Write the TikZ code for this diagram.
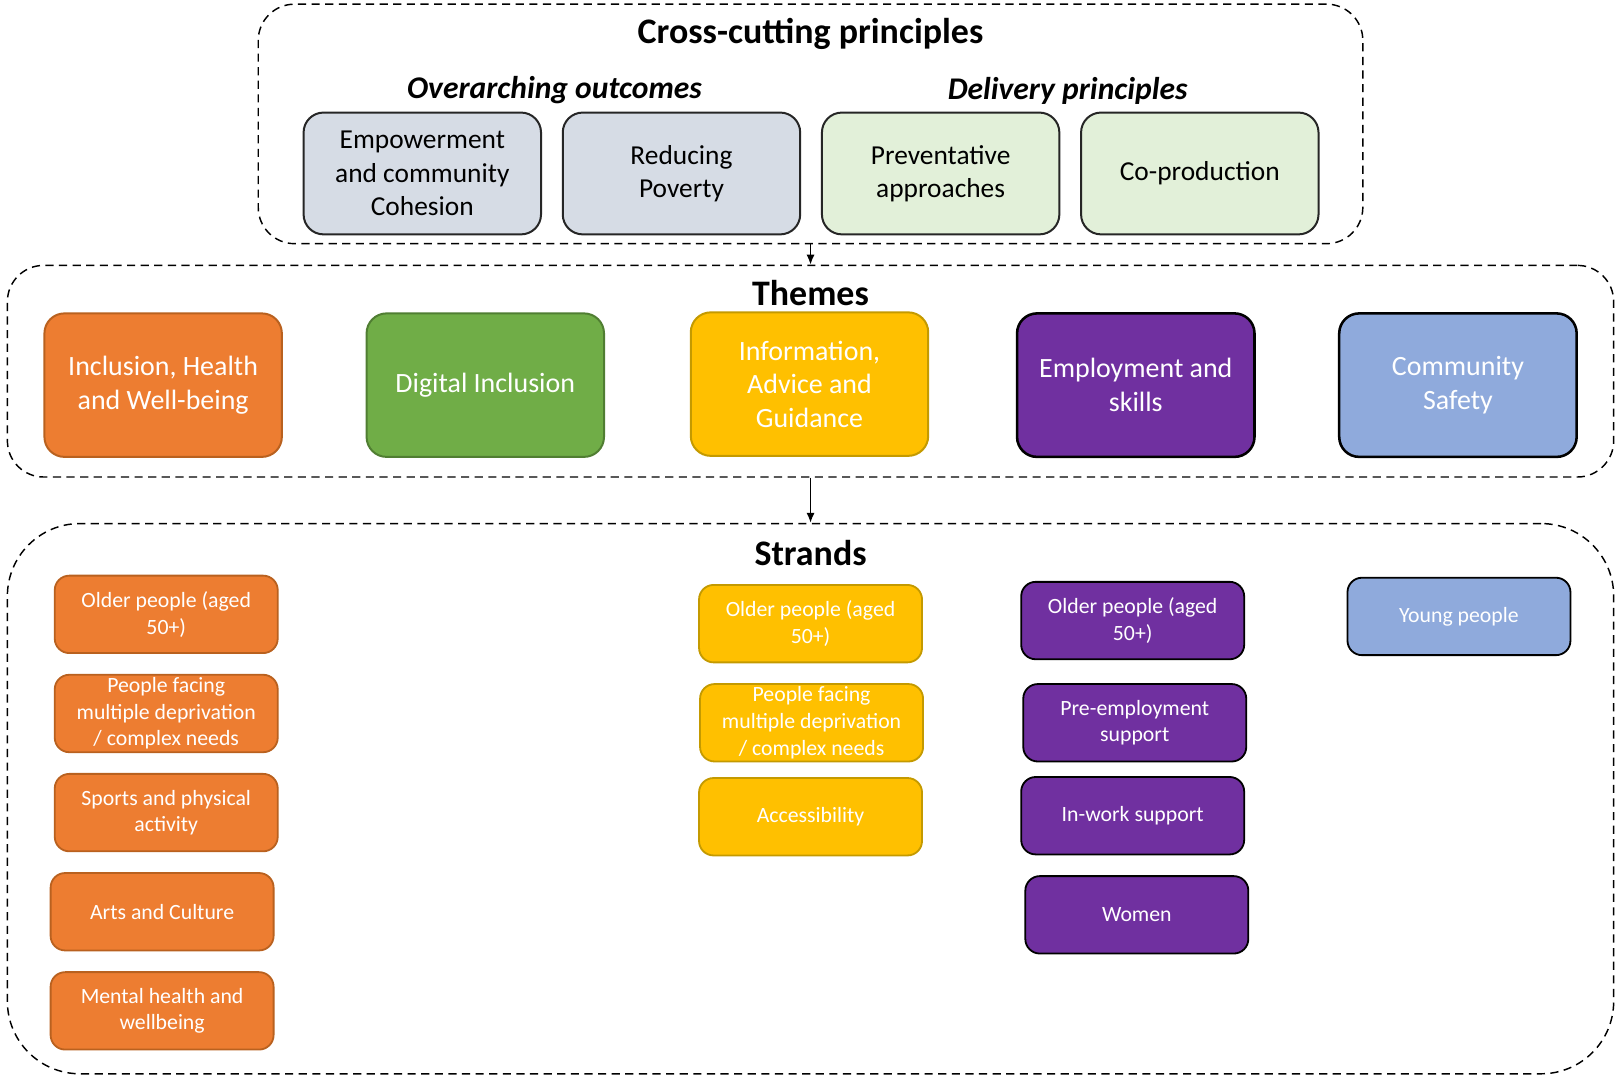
\documentclass[tikz,border=0pt]{standalone}
\usepackage{fontspec}
\setmainfont{Carlito}
\usetikzlibrary{arrows,arrows.meta}

\definecolor{outcomefill}{HTML}{D6DCE5}
\definecolor{principlefill}{HTML}{E2F0D9}
\definecolor{healthcol}{HTML}{ED7D31}
\definecolor{healthline}{HTML}{B9611F}
\definecolor{digitalcol}{HTML}{70AD47}
\definecolor{digitalline}{HTML}{507E32}
\definecolor{advicecol}{HTML}{FFC000}
\definecolor{adviceline}{HTML}{C49A00}
\definecolor{skillscol}{HTML}{7030A0}
\definecolor{safetycol}{HTML}{8FAADC}

\begin{document}
\begin{tikzpicture}[x=0.02cm,y=-0.02cm]
    \tikzset{frame/.style={draw, dash pattern=on 4.5pt off 3pt, line width=0.8pt, rounded corners=20pt}}
    \tikzset{heading/.style={font=\fontsize{19.8}{24}\selectfont\bfseries}}
    \tikzset{subheading/.style={font=\fontsize{17.4}{20}\selectfont\bfseries\itshape}}
    \tikzset{principle/.style={draw=black!85, line width=1.1pt, rounded corners=11pt, align=center,
        minimum width=4.6cm, minimum height=2.36cm, inner sep=0pt, font=\fontsize{15.1}{18.3}\selectfont}}
    \tikzset{theme/.style={principle, minimum height=2.78cm, text=white, font=\fontsize{15.4}{18.5}\selectfont}}
    \tikzset{strand/.style={theme, line width=1pt, rounded corners=8pt, minimum width=4.32cm,
        minimum height=1.5cm, font=\fontsize{12}{14.7}\selectfont}}
    \tikzset{link/.style={-{Latex[length=5.5pt,width=4.5pt]}, line width=0.9pt}}
    \useasboundingbox (0,0) rectangle (1568,1042);
    % cross-cutting principles
    \node[frame, minimum width=21.4cm, minimum height=4.64cm] (cross) at (785,120) {};
    \node[heading] (crosstitle) at (785,33) {Cross-cutting principles};
    \node[subheading] (outcomes) at (537,87) {Overarching outcomes};
    \node[subheading] (delivery) at (1034,88) {Delivery principles};
    \node[principle, fill=outcomefill] (empower) at (409,168) {Empowerment\\and community\\Cohesion};
    \node[principle, fill=outcomefill] (poverty) at (660,168) {Reducing\\Poverty};
    \node[principle, fill=principlefill] (prevent) at (911,168) {Preventative\\approaches};
    \node[principle, fill=principlefill] (coprod) at (1162,168) {Co-production};
    % themes
    \node[frame, minimum width=31.12cm, minimum height=4.1cm] (themes) at (785,359.5) {};
    \node[heading] (themestitle) at (785,284) {Themes};
    \node[theme, fill=healthcol, draw=healthline] (health) at (158,373) {Inclusion, Health\\and Well-being};
    \node[theme, fill=digitalcol, draw=digitalline] (digital) at (470,373) {Digital Inclusion};
    \node[theme, fill=advicecol, draw=adviceline] (advice) at (784,372) {Information,\\Advice and\\Guidance};
    \node[theme, fill=skillscol, draw=black, line width=1.4pt] (skills) at (1100,373) {Employment and\\skills};
    \node[theme, fill=safetycol, draw=black, line width=1.4pt] (safety) at (1412,373) {Community\\Safety};
    % strands
    \node[frame, rounded corners=40pt, minimum width=31.12cm, minimum height=10.66cm] (strands) at (785,773.5) {};
    \node[heading] (strandstitle) at (785,536) {Strands};
    \node[strand, fill=healthcol, draw=healthline] (hold) at (161,595) {Older people (aged\\50+)};
    \node[strand, fill=healthcol, draw=healthline] (hdep) at (161,691) {People facing\\multiple deprivation\\/ complex needs};
    \node[strand, fill=healthcol, draw=healthline] (hsport) at (161,787) {Sports and physical\\activity};
    \node[strand, fill=healthcol, draw=healthline] (harts) at (157,883) {Arts and Culture};
    \node[strand, fill=healthcol, draw=healthline] (hmental) at (157,979) {Mental health and\\wellbeing};
    \node[strand, fill=advicecol, draw=adviceline] (aold) at (785,604) {Older people (aged\\50+)};
    \node[strand, fill=advicecol, draw=adviceline] (adep) at (786,700) {People facing\\multiple deprivation\\/ complex needs};
    \node[strand, fill=advicecol, draw=adviceline] (access) at (785,791) {Accessibility};
    \node[strand, fill=skillscol, draw=black] (sold) at (1097,601) {Older people (aged\\50+)};
    \node[strand, fill=skillscol, draw=black] (preemp) at (1099,700) {Pre-employment\\support};
    \node[strand, fill=skillscol, draw=black] (inwork) at (1097,790) {In-work support};
    \node[strand, fill=skillscol, draw=black] (women) at (1101,886) {Women};
    \node[strand, fill=safetycol, draw=black] (young) at (1413,597) {Young people};
    % links
    \draw[link] (cross.south) -- (themes.north);
    \draw[link] (themes.south) -- (strands.north);
\end{tikzpicture}
\end{document}
